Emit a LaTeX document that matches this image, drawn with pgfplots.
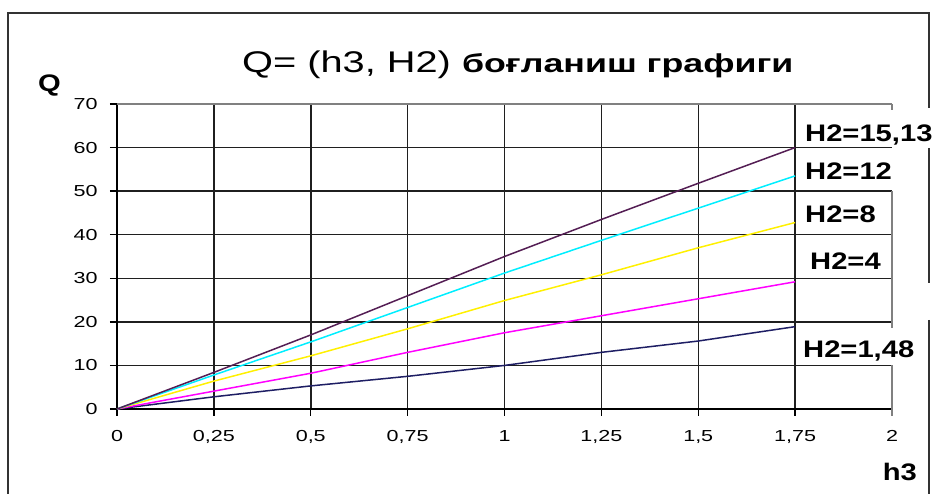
\documentclass[border=0pt]{standalone}
\usepackage{pgfplots}
\pgfplotsset{compat=1.18}
\usepackage{fontspec}
\setmainfont{Liberation Sans}
\newfontfamily\widefont[FakeStretch=1.35]{Liberation Sans}
\newfontfamily\titlefont[FakeStretch=1.33]{Liberation Sans}
\newfontfamily\cyrfont[FakeStretch=1.38]{Liberation Sans}
\newfontfamily\labfont[FakeStretch=1.22]{Liberation Sans}
\definecolor{purp}{RGB}{84,30,84}
\definecolor{navyl}{RGB}{30,30,100}
\definecolor{cyanl}{RGB}{0,238,255}
\definecolor{yell}{RGB}{255,240,0}
\definecolor{magl}{RGB}{255,0,255}
\begin{document}
\begin{tikzpicture}
\useasboundingbox (0bp,0bp) rectangle (943bp,494bp);
% outer frame
\draw[line width=1.5bp, black!80] (8bp,-5bp) -- (8bp,481bp) -- (929bp,481bp) -- (929bp,386bp);
\draw[line width=1.5bp, black!80] (929bp,346bp) -- (929bp,211bp);
\draw[line width=1.5bp, black!80] (929bp,174bp) -- (929bp,-5bp);
\begin{axis}[
  at={(117bp,85bp)}, anchor=south west,
  scale only axis, width=775bp, height=305bp,
  xmin=0, xmax=2, ymin=0, ymax=70,
  clip=false,
  axis lines=left,
  axis line style={-, black, line width=1.5bp},
  tick align=outside,
  major tick length=7bp,
  tick style={black, line width=1.3bp},
  grid=major,
  major grid style={black!88, line width=1.5bp},
  xtick={0,0.25,0.5,0.75,1,1.25,1.5,1.75},
  xticklabels={0,{0,25},{0,5},{0,75},1,{1,25},{1,5},{1,75}},
  extra x ticks={2},
  extra x tick labels={2},
  extra x tick style={grid=none, tick style={gray, line width=1.3bp}},
  ytick={0,10,20,30,40,50,60},
  yticklabels={0,10,20,30,40,50,60},
  extra y ticks={70},
  extra y tick labels={70},
  extra y tick style={major grid style={gray, line width=1.5bp}},
  ticklabel style={font=\widefont\fontsize{16}{18}\selectfont},
  xticklabel style={yshift=-11bp},
  yticklabel style={xshift=-9bp},
]
\addplot[navyl, line width=1.5bp] coordinates {(0,0)(0.25,2.8)(0.5,5.3)(0.75,7.5)(1,10.0)(1.25,13.0)(1.5,15.6)(1.75,18.9)};
\addplot[magl, line width=1.5bp] coordinates {(0,0)(0.25,4.1)(0.5,8.2)(0.75,13.0)(1,17.5)(1.25,21.4)(1.5,25.3)(1.75,29.2)};
\addplot[yell, line width=1.5bp] coordinates {(0,0)(0.25,6.4)(0.5,12.2)(0.75,18.4)(1,24.9)(1.25,30.8)(1.5,37.0)(1.75,42.8)};
\addplot[cyanl, line width=1.5bp] coordinates {(0,0)(0.25,7.8)(0.5,15.4)(0.75,23.3)(1,31.2)(1.25,38.7)(1.5,46.1)(1.75,53.5)};
\addplot[purp, line width=1.5bp] coordinates {(0,0)(0.25,8.4)(0.5,17.0)(0.75,26.0)(1,35.0)(1.25,43.5)(1.5,51.8)(1.75,60)};
% partial right boundary at x=2
\draw[gray, line width=1.4bp] (axis cs:2,70) -- (axis cs:2,68.6);
\draw[gray, line width=1.4bp] (axis cs:2,50) -- (axis cs:2,18.6);
\draw[gray, line width=1.4bp] (axis cs:2,10) -- (axis cs:2,0);
\end{axis}
% title and labels
\node[anchor=base west, inner sep=0] at (242bp,421bp) {\titlefont\fontsize{30}{34}\selectfont Q= (h3, H2) \cyrfont\fontsize{26}{30}\selectfont\bfseries боғланиш графиги};
\node[anchor=base west, inner sep=0] at (38bp,402bp) {\labfont\fontsize{24}{28}\selectfont\bfseries Q};
\node[anchor=base east, inner sep=0] at (917bp,14bp) {\labfont\fontsize{24}{28}\selectfont\bfseries h3};
\node[anchor=base west, inner sep=0] at (805bp,352bp) {\labfont\fontsize{24}{28}\selectfont\bfseries H2=15,13};
\node[anchor=base west, inner sep=0] at (805bp,314bp) {\labfont\fontsize{24}{28}\selectfont\bfseries H2=12};
\node[anchor=base west, inner sep=0] at (805bp,271bp) {\labfont\fontsize{24}{28}\selectfont\bfseries H2=8};
\node[anchor=base west, inner sep=0] at (810bp,224bp) {\labfont\fontsize{24}{28}\selectfont\bfseries H2=4};
\node[anchor=base west, inner sep=0] at (803bp,136bp) {\labfont\fontsize{24}{28}\selectfont\bfseries H2=1,48};
\end{tikzpicture}
\end{document}
